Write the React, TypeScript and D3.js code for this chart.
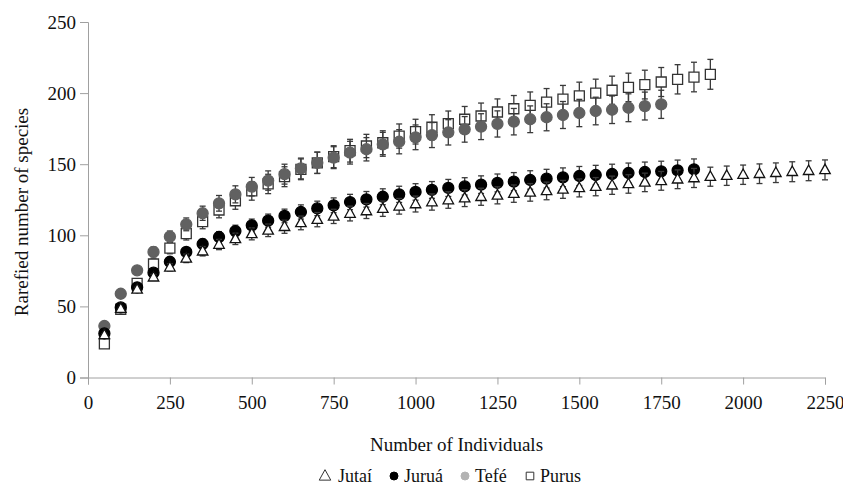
import React, { useRef, useEffect } from 'react';
import * as d3 from 'd3';

// sample sizes (individuals), every 50
const individuals: number[] = d3.range(50, 2251, 50);

// rarefied species richness
const jutai: number[] = [
  30, 48.4, 62, 70.5, 77.5, 83.8, 88.8, 93.5, 97.5, 101, 103.5, 106, 108.7, 111, 113.3,
  115.3, 117.1, 118.7, 120.4, 122, 123.4, 124.8, 126.1, 127.1, 128.1, 129.3, 130.2, 131.2,
  132.3, 133.3, 134.2, 135.2, 136.1, 137.2, 138.3, 139.4, 140.3, 141.2, 141.9, 142.6, 143.3,
  144, 144.7, 145.4, 146,
];
const jutaiErr: number[] = [
  0.8, 1, 1.5, 2, 2.5, 3, 3.3, 3.6, 4, 4.2, 4.4, 4.6, 4.8, 5, 5, 5.2, 5.3, 5.4, 5.5, 5.6,
  5.7, 5.8, 5.9, 6, 6, 6.1, 6.2, 6.2, 6.3, 6.3, 6.4, 6.4, 6.5, 6.5, 6.6, 6.6, 6.7, 6.7, 6.8,
  6.8, 6.9, 6.9, 7, 7, 7,
];

const jurua: number[] = [
  31, 49.3, 63.4, 73.7, 81.4, 88.3, 93.9, 98.8, 103, 107, 110.3, 113.6, 116.4, 118.9, 121.1,
  123.4, 125.3, 127.1, 128.8, 130.5, 131.9, 133.3, 134.4, 135.6, 136.8, 137.7, 138.9, 139.8,
  140.8, 141.7, 142.4, 143.1, 143.8, 144.5, 145, 145.7, 146.4,
];
const juruaErr: number[] = [
  0.8, 1, 1.5, 2, 2.5, 3, 3.4, 3.8, 4.1, 4.4, 4.6, 4.8, 5, 5.1, 5.2, 5.4, 5.5, 5.6, 5.7, 5.8,
  5.9, 6, 6.1, 6.2, 6.3, 6.4, 6.5, 6.6, 6.6, 6.7, 6.8, 6.9, 7, 7, 7.1, 7.2, 7.3,
];

const tefe: number[] = [
  36.2, 58.9, 75.4, 88.3, 99, 107.7, 115.5, 122.5, 128.8, 134.2, 138.5, 143, 147, 151, 154.6,
  158.1, 160.5, 164, 165.8, 168.9, 170.5, 172.4, 174.5, 176.4, 178.3, 179.9, 181.6, 183,
  184.6, 186, 187.4, 188.3, 189.7, 190.9, 192.1,
];
const tefeErr: number[] = [
  1, 1.5, 2.5, 3.5, 4, 4.5, 5, 5.5, 6, 6.5, 6.8, 7, 7.3, 7.5, 7.7, 8, 8.2, 8.4, 8.5, 8.7,
  8.8, 8.9, 9, 9.1, 9.2, 9.3, 9.4, 9.5, 9.5, 9.6, 9.7, 9.7, 9.8, 9.8, 9.9,
];

const purus: number[] = [
  23.6, 48, 66.2, 79.8, 91, 101.2, 109.6, 117.8, 124.3, 131.2, 136.1, 141.2, 146.4, 151,
  155.3, 159.5, 162.8, 165.1, 169.8, 172.9, 176, 178.5, 181.6, 183.9, 186.7, 189, 191.4,
  193.7, 195.8, 198, 200, 202, 204, 206, 207.8, 209.7, 211.3, 213.2,
];
const purusErr: number[] = [
  1, 1.5, 2.5, 3.5, 4, 4.5, 5, 5.5, 6, 6.5, 6.8, 7, 7.3, 7.5, 7.7, 8, 8.2, 8.4, 8.5, 8.7,
  8.8, 8.9, 9, 9.1, 9.2, 9.3, 9.4, 9.5, 9.6, 9.7, 9.8, 9.9, 10, 10.1, 10.2, 10.3, 10.4, 10.5,
];

const xTicks: number[] = [0, 250, 500, 750, 1000, 1250, 1500, 1750, 2000, 2250];
const yTicks: number[] = [0, 50, 100, 150, 200, 250];

type Shape = 'circle' | 'square' | 'triangle';
interface Series {
  name: string;
  values: number[];
  errors: number[];
  shape: Shape;
  fill: string;
  stroke: string;
  legendFill: string;
}

// drawing order: Purus, Tefé, Juruá, Jutaí
const series: Series[] = [
  { name: 'Purus', values: purus, errors: purusErr, shape: 'square', fill: '#ffffff', stroke: '#333333', legendFill: '#ffffff' },
  { name: 'Tefé', values: tefe, errors: tefeErr, shape: 'circle', fill: '#616161', stroke: '#616161', legendFill: '#b3b3b3' },
  { name: 'Juruá', values: jurua, errors: juruaErr, shape: 'circle', fill: '#000000', stroke: '#000000', legendFill: '#000000' },
  { name: 'Jutaí', values: jutai, errors: jutaiErr, shape: 'triangle', fill: '#ffffff', stroke: '#111111', legendFill: '#ffffff' },
];
const legendOrder = ['Jutaí', 'Juruá', 'Tefé', 'Purus'];

const width = 843;
const height = 486;
const margin = { top: 22, right: 18, bottom: 108.5, left: 88 };
const font = '"Liberation Serif", "Times New Roman", serif';

const markerPath = (shape: Shape, s: number) => {
  if (shape === 'square') return `M${-s},${-s}H${s}V${s}H${-s}Z`;
  if (shape === 'triangle') return `M0,${-s * 1.15}L${s * 1.05},${s * 0.75}L${-s * 1.05},${s * 0.75}Z`;
  return d3.symbol(d3.symbolCircle, Math.PI * s * s)() as string;
};

const App = () => {
  const svgRef = useRef<SVGSVGElement>(null);

  useEffect(() => {
    document.body.style.margin = '0';
    const svg = d3.select(svgRef.current);
    svg.selectAll('*').remove();

    const x = d3.scaleLinear()
      .domain([0, 2250])
      .range([margin.left, width - margin.right]);

    const y = d3.scaleLinear()
      .domain([0, 250])
      .range([height - margin.bottom, margin.top]);

    const axisColor = '#a0a0a0';

    const xAxis = svg.append('g')
      .attr('transform', `translate(0,${height - margin.bottom})`)
      .call(d3.axisBottom(x).tickValues(xTicks).tickSize(7).tickPadding(11).tickFormat(d3.format('d')));
    xAxis.select('.domain').attr('stroke', axisColor);
    xAxis.selectAll('.tick line').attr('stroke', axisColor);
    xAxis.selectAll('.tick text')
      .attr('fill', '#111')
      .style('font-family', font)
      .style('font-size', '19px');

    const yAxis = svg.append('g')
      .attr('transform', `translate(${margin.left},0)`)
      .call(d3.axisLeft(y).tickValues(yTicks).tickSize(8).tickPadding(4));
    yAxis.select('.domain').attr('stroke', axisColor);
    yAxis.selectAll('.tick line').attr('stroke', axisColor);
    yAxis.selectAll('.tick text')
      .attr('fill', '#111')
      .style('font-family', font)
      .style('font-size', '19px');

    svg.append('text')
      .attr('transform', `translate(21,212) rotate(-90)`)
      .attr('text-anchor', 'middle')
      .attr('dy', '0.35em')
      .style('font-family', font)
      .style('font-size', '19px')
      .attr('fill', '#111')
      .text('Rarefied number of species');

    svg.append('text')
      .attr('x', (margin.left + width - margin.right) / 2)
      .attr('y', 444)
      .attr('text-anchor', 'middle')
      .attr('dy', '0.35em')
      .style('font-family', font)
      .style('font-size', '19px')
      .attr('fill', '#111')
      .text('Number of Individuals');

    // error bars and markers
    series.forEach(s => {
      const pts = s.values.map((v, i) => ({ n: individuals[i], v, e: s.errors[i] }));
      const g = svg.append('g');
      const bars = g.selectAll('g.bar').data(pts).enter().append('g')
        .attr('stroke', '#3a3a3a')
        .attr('stroke-width', 1.3);
      bars.append('line')
        .attr('x1', d => x(d.n)).attr('x2', d => x(d.n))
        .attr('y1', d => y(d.v - d.e)).attr('y2', d => y(d.v + d.e));
      bars.append('line')
        .attr('x1', d => x(d.n) - 3).attr('x2', d => x(d.n) + 3)
        .attr('y1', d => y(d.v + d.e)).attr('y2', d => y(d.v + d.e));
      bars.append('line')
        .attr('x1', d => x(d.n) - 3).attr('x2', d => x(d.n) + 3)
        .attr('y1', d => y(d.v - d.e)).attr('y2', d => y(d.v - d.e));

      g.selectAll('path.mark').data(pts).enter().append('path')
        .attr('transform', d => `translate(${x(d.n)},${y(d.v)})`)
        .attr('d', markerPath(s.shape, s.shape === 'circle' ? 5.5 : 5))
        .attr('fill', s.fill)
        .attr('stroke', s.stroke)
        .attr('stroke-width', 1.3);
    });

    // legend
    const legendX = d3.scaleOrdinal<string, number>()
      .domain(legendOrder)
      .range([325, 394, 465, 530]);
    const legend = svg.append('g').attr('transform', 'translate(0,476)');
    legendOrder.forEach(name => {
      const s = series.find(d => d.name === name)!;
      legend.append('path')
        .attr('transform', `translate(${legendX(name)},0)`)
        .attr('d', markerPath(s.shape, s.shape === 'circle' ? 4 : s.shape === 'square' ? 3.8 : 5.5))
        .attr('fill', s.legendFill)
        .attr('stroke', s.shape === 'circle' ? s.legendFill : '#333')
        .attr('stroke-width', 1);
      legend.append('text')
        .attr('x', legendX(name) + (s.shape === 'triangle' ? 13 : 10))
        .attr('dy', '0.35em')
        .style('font-family', font)
        .style('font-size', '18px')
        .attr('fill', '#111')
        .text(name);
    });
  }, []);

  return <svg ref={svgRef} width={width} height={height} style={{ display: 'block', background: '#fff' }}></svg>;
};

export default App;
